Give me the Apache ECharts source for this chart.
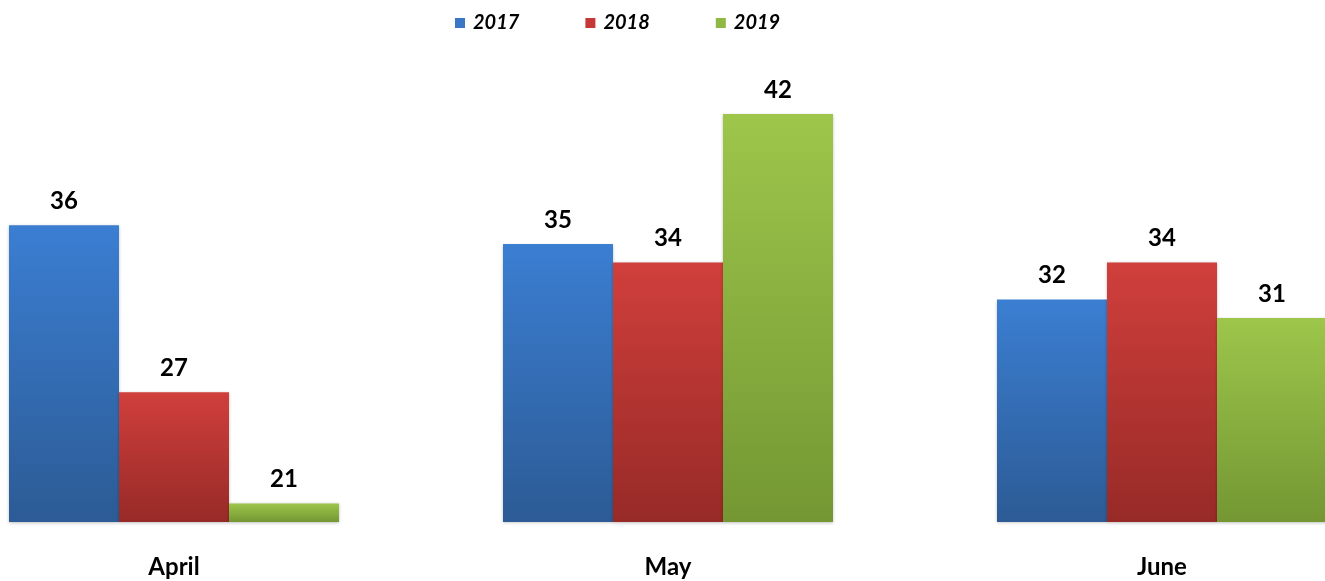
<!DOCTYPE html>
<html>
<head>
<meta charset="utf-8">
<script src="https://cdn.jsdelivr.net/npm/echarts@6/dist/echarts.min.js"></script>
<style>
  html, body { margin: 0; padding: 0; background: #fff; }
  #chart { width: 1325px; height: 581px; }
</style>
</head>
<body>
<div id="chart"></div>
<script>
// chart data
var months = ['April', 'May', 'June'];
var years = ['2017', '2018', '2019'];
var data2017 = [36, 35, 32];
var data2018 = [27, 34, 34];
var data2019 = [21, 42, 31];

var chart = echarts.init(document.getElementById('chart'));

function grad(top, bottom) {
  return new echarts.graphic.LinearGradient(0, 0, 0, 1, [
    {offset: 0, color: top},
    {offset: 1, color: bottom}
  ]);
}

var labelStyle = {
  show: true,
  position: 'top',
  distance: 12,
  color: '#000',
  fontFamily: 'Lato',
  fontWeight: 'bold',
  fontSize: 24
};

function makeSeries(name, values, top, bottom) {
  return {
    name: name,
    type: 'bar',
    data: values,
    barWidth: 110,
    barGap: '0%',
    itemStyle: {
      color: grad(top, bottom),
      shadowColor: 'rgba(0,0,0,0.25)',
      shadowBlur: 3,
      shadowOffsetY: 1
    },
    label: labelStyle,
    animation: false
  };
}

chart.setOption({
  backgroundColor: '#fff',
  legend: {
    top: 8,
    left: 450,
    itemWidth: 10,
    itemHeight: 10,
    itemGap: 66,
    icon: 'rect',
    data: [
      {name: '2017', itemStyle: {color: '#3a78c6'}},
      {name: '2018', itemStyle: {color: '#c43936'}},
      {name: '2019', itemStyle: {color: '#8fb944'}}
    ],
    textStyle: {
      fontFamily: 'Lato',
      fontStyle: 'italic',
      fontWeight: 'bold',
      fontSize: 20,
      color: '#000',
      padding: [0, 0, 0, 3]
    }
  },
  grid: {
    left: -73,
    width: 1482,
    top: 77,
    height: 445,
    outerBoundsMode: 'none'
  },
  xAxis: {
    type: 'category',
    data: months,
    axisLine: {show: false},
    axisTick: {show: false},
    axisLabel: {
      margin: 33,
      color: '#000',
      fontFamily: 'Lato',
      fontWeight: 'bold',
      fontSize: 24
    }
  },
  yAxis: {
    type: 'value',
    min: 20,
    max: 44,
    show: false,
    splitLine: {show: false}
  },
  series: [
    makeSeries(years[0], data2017, '#3b7ed2', '#2c5b95'),
    makeSeries(years[1], data2018, '#d03f3c', '#972a27'),
    makeSeries(years[2], data2019, '#9dc64b', '#749733')
  ]
});
</script>
</body>
</html>
